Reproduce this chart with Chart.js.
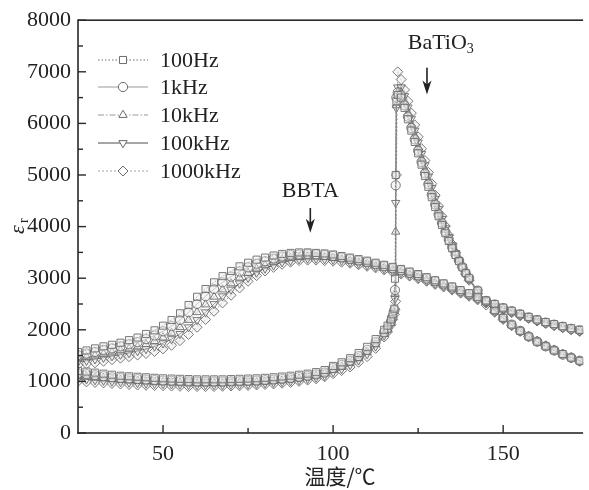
<!DOCTYPE html>
<html>
<head>
<meta charset="utf-8">
<script src="https://cdn.jsdelivr.net/npm/chart.js@4.4.1/dist/chart.umd.min.js"></script>
<style>
html, body { margin: 0; padding: 0; background: #fff; }
#wrap { width: 589px; height: 490px; }
</style>
</head>
<body>
<div id="wrap"><canvas id="c"></canvas></div>
<script>
// frecuencias (leyenda)
const seriesNames = ['100Hz', '1kHz', '10kHz', '100kHz', '1000kHz'];

// temperatura (°C) de la curva BBTA
const temps = [25,27.5,30,32.5,35,37.5,40,42.5,45,47.5,50,52.5,55,57.5,60,62.5,65,67.5,70,72.5,
  75,77.5,80,82.5,85,87.5,90,92.5,95,97.5,100,102.5,105,107.5,110,112.5,115,117.5,120,122.5,
  125,127.5,130,132.5,135,137.5,140,142.5,145,147.5,150,152.5,155,157.5,160,162.5,165,167.5,170,172.5,175];

const bbta100Hz = [1570,1600,1640,1680,1710,1750,1800,1850,1920,1990,2080,2190,2320,2480,2640,2790,2920,3040,3140,3230,
  3300,3360,3400,3440,3470,3490,3500,3500,3490,3480,3460,3430,3400,3370,3340,3300,3260,3220,3180,3130,
  3080,3020,2960,2900,2840,2770,2710,2640,2570,2500,2430,2370,2310,2250,2200,2150,2110,2070,2030,2000,1970];
const bbta1kHz = [1510,1540,1570,1610,1640,1680,1720,1760,1820,1890,1970,2070,2190,2340,2500,2650,2790,2920,3030,3130,
  3210,3280,3330,3380,3420,3450,3460,3470,3460,3450,3430,3400,3370,3340,3310,3270,3230,3190,3150,3100,
  3050,2990,2940,2880,2820,2750,2690,2620,2560,2490,2420,2360,2300,2240,2190,2140,2100,2060,2020,1990,1960];
const bbta10kHz = [1450,1470,1500,1530,1560,1600,1630,1670,1720,1780,1850,1940,2050,2190,2340,2490,2640,2780,2900,3010,
  3100,3180,3250,3310,3360,3390,3410,3420,3420,3410,3390,3370,3340,3310,3280,3240,3200,3160,3120,3070,
  3020,2970,2910,2860,2800,2740,2670,2610,2540,2480,2410,2350,2290,2230,2180,2130,2090,2050,2010,1980,1950];
const bbta100kHz = [1380,1400,1430,1460,1490,1520,1550,1590,1630,1680,1740,1820,1920,2050,2190,2340,2500,2650,2780,2900,
  3010,3110,3190,3250,3310,3340,3370,3380,3380,3370,3360,3340,3310,3280,3250,3220,3180,3140,3100,3050,
  3000,2950,2890,2840,2780,2720,2660,2590,2530,2460,2400,2340,2280,2230,2170,2130,2080,2040,2010,1970,1940];
const bbta1000kHz = [1320,1340,1360,1390,1420,1450,1480,1510,1540,1580,1630,1700,1790,1910,2050,2200,2360,2520,2670,2810,
  2940,3050,3140,3210,3270,3310,3340,3350,3350,3340,3330,3310,3290,3260,3230,3200,3160,3120,3080,3040,
  2990,2940,2880,2830,2770,2710,2650,2580,2520,2450,2390,2330,2270,2220,2170,2120,2080,2040,2000,1970,1940];

// temperatura (°C) de la curva BaTiO3
const tempsBT = [25,27.5,30,32.5,35,37.5,40,42.5,45,47.5,50,52.5,55,57.5,60,62.5,65,67.5,70,72.5,
  75,77.5,80,82.5,85,87.5,90,92.5,95,97.5,100,102.5,105,107.5,110,112.5,115,
  116,117,117.5,118,118.2,118.4,118.6,
  119,120,121,122,123,124,125,126,127,128,129,130,131,132,133,134,135,136,137,138,139,140,
  142.5,145,147.5,150,152.5,155,157.5,160,162.5,165,167.5,170,172.5,175];

const bt100Hz = [1200,1190,1170,1150,1130,1110,1100,1090,1080,1070,1060,1055,1050,1045,1040,1040,1040,1040,1045,1050,
  1055,1060,1070,1080,1095,1110,1130,1150,1180,1220,1300,1370,1450,1550,1670,1820,2000,
  2080,2200,2300,2410,2990,5000,6430,
  6550,6500,6300,6080,5860,5640,5420,5200,4980,4770,4570,4380,4200,4030,3870,3720,3580,3450,3330,3210,3100,3000,
  2760,2550,2380,2230,2100,1980,1870,1770,1680,1600,1530,1460,1400,1350];
const bt1kHz = [1150,1140,1120,1100,1080,1065,1055,1045,1035,1025,1015,1010,1005,1000,995,995,995,995,1000,1005,
  1010,1015,1025,1035,1050,1065,1085,1105,1135,1170,1260,1320,1400,1490,1610,1760,1950,
  2030,2160,2260,2380,2770,4800,6500,
  6600,6550,6350,6130,5910,5690,5470,5250,5030,4820,4620,4430,4240,4070,3900,3750,3600,3460,3340,3220,3100,3000,
  2760,2550,2380,2230,2100,1980,1870,1770,1680,1600,1520,1460,1400,1340];
const bt10kHz = [1100,1090,1075,1060,1045,1030,1020,1010,1000,990,985,980,975,970,965,965,965,965,970,975,
  980,985,995,1005,1020,1035,1055,1080,1110,1150,1220,1280,1360,1450,1570,1720,1920,
  2000,2130,2240,2360,2700,3900,6350,
  6600,6600,6420,6200,5980,5760,5540,5320,5100,4890,4680,4480,4290,4110,3940,3780,3630,3490,3360,3230,3110,3000,
  2750,2540,2370,2220,2090,1970,1870,1770,1680,1600,1520,1460,1400,1340];
const bt100kHz = [1050,1040,1025,1015,1000,990,980,970,960,955,950,945,940,935,930,930,930,930,935,940,
  945,955,965,975,990,1005,1025,1050,1075,1110,1180,1240,1320,1410,1530,1680,1890,
  1980,2110,2220,2330,2600,4460,6300,
  6700,6700,6530,6310,6090,5860,5630,5410,5190,4970,4750,4540,4340,4150,3970,3800,3640,3490,3350,3220,3100,2980,
  2730,2520,2350,2210,2080,1970,1870,1770,1680,1600,1520,1450,1390,1330];
const bt1000kHz = [1000,990,980,970,960,950,940,930,925,920,915,910,905,900,900,900,900,905,910,915,
  920,930,940,950,965,980,1000,1025,1050,1090,1150,1210,1280,1370,1480,1640,1860,
  1960,2100,2200,2300,2400,2550,5000,
  7000,6850,6650,6430,6200,5970,5740,5510,5280,5050,4830,4610,4400,4200,4010,3830,3660,3500,3350,3210,3080,2960,
  2700,2480,2340,2200,2080,1970,1870,1780,1690,1610,1530,1460,1390,1330];

const xTicks = [50, 100, 150];
const xMinorTicks = [75, 125];
const yTicks = [0, 1000, 2000, 3000, 4000, 5000, 6000, 7000, 8000];
const yMinorTicks = [500, 1500, 2500, 3500, 4500, 5500, 6500, 7500];

const bbtaSeries = [bbta100Hz, bbta1kHz, bbta10kHz, bbta100kHz, bbta1000kHz];
const btSeries = [bt100Hz, bt1kHz, bt10kHz, bt100kHz, bt1000kHz];

// estilo de cada frecuencia
const pointStyles = ['rect', 'circle', 'triangle', 'triangle', 'rectRot'];
const pointRotations = [0, 0, 0, 180, 0];
const pointSizes = [5, 4.6, 4.8, 4.8, 5];
const dashes = [[1.5, 2], [], [6, 2, 1.5, 2], [], [2, 2]];
const lineColors = ['#6e6e6e', '#9a9a9a', '#9a9a9a', '#4e4e4e', '#a6a6a6'];
const markerColor = '#6c6c6c';
const serif = "'Liberation Serif', 'DejaVu Serif', serif";

function toPoints(xs, ys) {
  return ys.map((v, i) => ({ x: xs[i], y: v }));
}

const datasets = [];
seriesNames.forEach((name, i) => {
  [[temps, bbtaSeries[i]], [tempsBT, btSeries[i]]].forEach(([xs, ys]) => {
    datasets.push({
      label: name,
      data: toPoints(xs, ys),
      showLine: true,
      borderColor: lineColors[i],
      borderWidth: 0.9,
      borderDash: dashes[i],
      pointStyle: pointStyles[i],
      rotation: pointRotations[i],
      pointRadius: pointSizes[i],
      pointBorderWidth: 0.9,
      pointBorderColor: markerColor,
      pointBackgroundColor: 'rgba(235,235,235,0.45)',
      tension: 0
    });
  });
});

function drawArrow(ctx, x, y1, y2) {
  ctx.save();
  ctx.fillStyle = '#222';
  ctx.fillRect(x - 0.8, y1, 1.6, y2 - y1 - 8);
  ctx.beginPath();
  ctx.moveTo(x, y2);
  ctx.lineTo(x - 4.5, y2 - 14);
  ctx.lineTo(x, y2 - 10);
  ctx.lineTo(x + 4.5, y2 - 14);
  ctx.closePath();
  ctx.fill();
  ctx.restore();
}

const decor = {
  id: 'decor',
  afterDraw(chart) {
    const ctx = chart.ctx;
    const a = chart.chartArea;
    const xs = chart.scales.x, ys = chart.scales.y;
    ctx.save();

    // ejes y marcas hacia dentro
    ctx.fillStyle = '#2a2a2a';
    ctx.fillRect(a.left, a.top - 0.8, a.right - a.left, 1.6);
    ctx.fillRect(a.left - 0.8, a.top - 0.8, 1.6, a.bottom - a.top + 1.6);
    ctx.fillRect(a.left - 0.8, a.bottom - 0.8, a.right - a.left + 0.8, 1.6);
    xTicks.forEach(v => { const p = xs.getPixelForValue(v); ctx.fillRect(p - 0.7, a.bottom - 8, 1.4, 8); });
    xMinorTicks.forEach(v => { const p = xs.getPixelForValue(v); ctx.fillRect(p - 0.7, a.bottom - 5, 1.4, 5); });
    yTicks.forEach(v => { const p = ys.getPixelForValue(v); ctx.fillRect(a.left, p - 0.7, 8, 1.4); });
    yMinorTicks.forEach(v => { const p = ys.getPixelForValue(v); ctx.fillRect(a.left, p - 0.7, 5, 1.4); });

    // títulos de ejes
    ctx.fillStyle = '#222';
    ctx.textBaseline = 'middle';
    ctx.textAlign = 'center';
    ctx.font = "21px 'Noto Sans CJK SC', sans-serif";
    ctx.fillText('温度/℃', 340, 476);

    ctx.save();
    ctx.translate(18, (a.top + a.bottom) / 2);
    ctx.rotate(-Math.PI / 2);
    ctx.font = 'italic 22px ' + serif;
    ctx.textAlign = 'center';
    ctx.fillText('ε', -3, 0);
    ctx.font = '14px ' + serif;
    ctx.fillText('r', 6, 6);
    ctx.restore();

    // leyenda
    const legY = [60, 87, 115, 143, 171];
    seriesNames.forEach((name, i) => {
      const y = legY[i];
      ctx.save();
      ctx.strokeStyle = lineColors[i];
      ctx.lineWidth = 1.2;
      ctx.setLineDash(dashes[i]);
      ctx.beginPath();
      ctx.moveTo(98, y);
      ctx.lineTo(148, y);
      ctx.stroke();
      ctx.restore();
      ctx.save();
      ctx.strokeStyle = markerColor;
      ctx.fillStyle = '#fff';
      Chart.helpers.drawPoint(ctx, {
        pointStyle: pointStyles[i], rotation: pointRotations[i],
        radius: pointSizes[i], borderWidth: 1
      }, 123, y);
      ctx.restore();
      ctx.fillStyle = '#222';
      ctx.textAlign = 'left';
      ctx.textBaseline = 'middle';
      ctx.font = '22px ' + serif;
      ctx.fillText(name, 160, y + 1);
    });

    // anotaciones
    ctx.font = '22px ' + serif;
    ctx.textAlign = 'center';
    ctx.textBaseline = 'middle';
    ctx.fillText('BBTA', xs.getPixelForValue(93.3), ys.getPixelForValue(4690));
    drawArrow(ctx, xs.getPixelForValue(93.3), ys.getPixelForValue(4360), ys.getPixelForValue(3880));

    const bx = xs.getPixelForValue(131.8), by = ys.getPixelForValue(7560);
    ctx.textAlign = 'left';
    const w1 = ctx.measureText('BaTiO').width;
    ctx.fillText('BaTiO', bx - (w1 + 8) / 2, by);
    ctx.font = '14px ' + serif;
    ctx.fillText('3', bx - (w1 + 8) / 2 + w1, by + 6);
    drawArrow(ctx, xs.getPixelForValue(127.6), ys.getPixelForValue(7080), ys.getPixelForValue(6560));

    ctx.restore();
  }
};

new Chart(document.getElementById('c'), {
  type: 'scatter',
  data: { datasets: datasets },
  options: {
    responsive: true,
    maintainAspectRatio: false,
    animation: false,
    devicePixelRatio: 1,
    layout: { padding: { top: 15, right: 0, left: 0, bottom: 0 } },
    plugins: { legend: { display: false }, tooltip: { enabled: false } },
    scales: {
      x: {
        type: 'linear', min: 25, max: 173.5,
        grid: { display: false }, border: { display: false },
        ticks: { font: { family: serif, size: 22 }, color: '#222', padding: 0, maxRotation: 0, autoSkip: false,
          callback: v => String(v) },
        afterBuildTicks: s => { s.ticks = xTicks.map(v => ({ value: v })); },
        afterFit: s => { s.height = 57; }
      },
      y: {
        min: 0, max: 8000,
        grid: { display: false, drawTicks: false }, border: { display: false },
        ticks: { stepSize: 1000, font: { family: serif, size: 22 }, color: '#222', padding: 7,
          callback: v => String(v) },
        afterFit: s => { s.width = 78; }
      }
    }
  },
  plugins: [decor]
});
</script>
</body>
</html>
